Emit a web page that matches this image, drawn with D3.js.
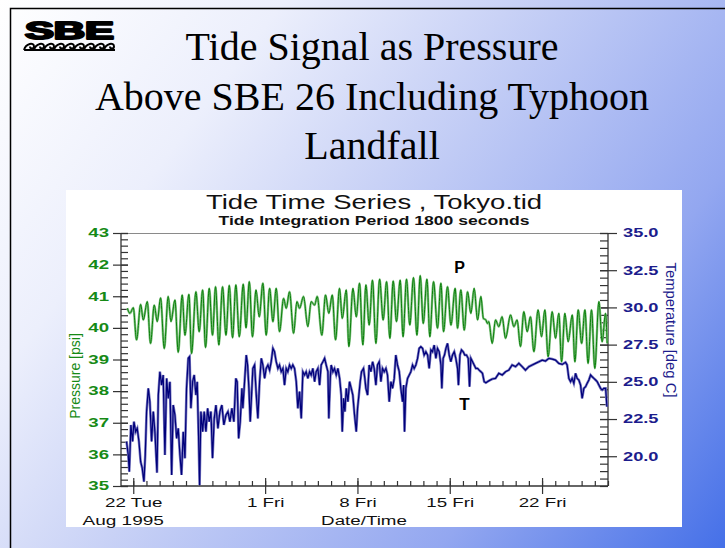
<!DOCTYPE html>
<html><head><meta charset="utf-8">
<script src="https://cdn.jsdelivr.net/npm/d3@7"></script>
<style>html,body{margin:0;padding:0;background:#fff;overflow:hidden}</style>
</head><body>
<svg id="c" width="725" height="548"></svg>
<script>
// ---------------- data ----------------
const slideTitle = ["Tide Signal as Pressure", "Above SBE 26 Including Typhoon", "Landfall"];
const chartTitle = "Tide Time Series , Tokyo.tid";
const chartSubtitle = "Tide Integration Period 1800 seconds";
const pressureLabel = "Pressure [psi]";
const temperatureLabel = "Temperature [deg C]";
const xLabel = "Date/Time";
const xSubLabel = "Aug 1995";
const pressureTicks = [35, 36, 37, 38, 39, 40, 41, 42, 43];
const temperatureTicks = [20.0, 22.5, 25.0, 27.5, 30.0, 32.5, 35.0];
const dateTicks = ["1995-08-22", "1995-09-01", "1995-09-08", "1995-09-15", "1995-09-22"];
const seriesNames = ["P", "T"];

// days since 1995-08-22 00:00 and values (tidal highs / lows of pressure)
const pressureDay = [-0.45,-0.25,0.00,0.25,0.56,0.76,1.06,1.31,1.59,1.82,2.07,2.35,2.65,2.86,3.16,3.41,3.71,3.92,4.22,4.42,
  4.75,5.00,5.26,5.48,5.76,6.01,6.24,6.49,6.77,7.03,7.28,7.53,7.78,8.04,8.34,8.55,8.80,9.04,9.31,9.55,
  9.83,10.08,10.34,10.59,10.84,11.09,11.40,11.60,11.85,12.16,12.41,12.61,12.91,13.24,13.49,13.75,13.95,14.30,14.58,14.83,
  15.09,15.34,15.64,15.85,16.15,16.35,16.66,16.91,17.16,17.41,17.64,17.89,18.14,18.40,18.68,18.95,19.21,19.46,19.71,19.96,
  20.24,20.46,20.72,20.97,21.25,21.51,21.76,21.99,22.27,22.49,22.77,23.07,23.33,23.53,23.83,24.09,24.41,24.59,24.84,25.10,
  25.35,25.60,25.85,26.11,26.36,26.55,26.74,26.86,26.96,27.22,27.47,27.72,27.97,28.23,28.61,28.86,29.11,29.36,29.62,29.87,
  30.12,30.38,30.70,30.96,31.21,31.46,31.77,32.02,32.27,32.48,32.73,32.98,33.29,33.49,33.74,34.00,34.25,34.49,34.75,35.00,
  35.31,35.56,35.81,35.94];
const pressureVal = [40.62,40.46,40.64,39.62,40.74,40.25,40.83,39.51,40.72,40.20,40.95,39.35,40.99,40.20,40.88,39.23,41.04,39.77,41.06,39.19,
  41.14,39.88,41.20,39.38,41.25,39.77,41.30,39.46,41.30,39.77,41.34,39.69,41.36,39.72,41.38,40.00,41.46,39.72,41.20,40.35,
  41.41,39.77,41.25,40.20,41.25,39.88,40.93,40.62,41.14,39.83,40.83,40.62,40.99,40.04,40.83,40.72,40.99,39.77,41.04,40.46,
  41.04,39.62,41.25,40.30,41.20,39.41,41.25,40.35,41.41,39.46,41.36,40.09,41.51,39.51,41.54,40.25,41.46,39.67,41.48,40.20,
  41.51,39.72,41.54,40.09,41.59,39.77,41.65,40.14,41.54,39.72,41.46,39.99,41.41,39.88,41.30,40.09,41.25,39.99,41.20,39.93,
  41.14,40.46,41.25,40.25,40.99,40.30,40.25,40.14,40.20,39.51,40.25,40.04,40.35,39.67,40.41,40.04,40.25,39.41,40.51,39.88,
  40.35,39.25,40.57,39.72,40.57,39.09,40.51,39.67,40.46,38.93,40.46,39.56,40.41,38.93,40.57,39.51,40.57,38.88,40.57,38.72,
  40.83,39.56,40.46,39.51];

const temperatureDay = [-0.51,-0.38,-0.30,-0.18,-0.05,0.05,0.18,0.30,0.43,0.56,0.68,0.81,0.91,1.01,1.14,1.26,1.39,1.52,1.64,1.80,
  1.90,2.02,2.15,2.27,2.40,2.53,2.65,2.78,2.91,3.03,3.16,3.29,3.41,3.54,3.66,3.79,3.92,4.04,4.17,4.27,
  4.37,4.50,4.62,4.75,4.85,4.95,5.03,5.13,5.26,5.38,5.51,5.64,5.76,5.89,6.01,6.14,6.27,6.42,6.57,6.72,
  6.87,7.03,7.18,7.33,7.48,7.63,7.78,7.88,7.99,8.11,8.24,8.31,8.44,8.57,8.67,8.77,8.87,8.97,9.07,9.20,
  9.33,9.45,9.58,9.71,9.83,9.96,10.08,10.21,10.34,10.46,10.59,10.71,10.84,10.97,11.09,11.22,11.35,11.47,11.60,11.72,
  11.85,11.98,12.10,12.23,12.36,12.48,12.61,12.74,12.86,12.99,13.11,13.24,13.37,13.49,13.62,13.75,13.87,14.00,14.13,14.25,
  14.38,14.51,14.63,14.76,14.83,14.94,15.01,15.14,15.26,15.39,15.52,15.65,15.77,15.85,15.95,16.05,16.15,16.28,16.40,16.53,
  16.65,16.78,16.91,17.01,17.11,17.21,17.31,17.46,17.56,17.64,17.77,17.89,18.02,18.15,18.27,18.40,18.52,18.65,18.78,18.90,
  19.03,19.16,19.28,19.41,19.54,19.66,19.79,19.91,20.04,20.17,20.29,20.42,20.50,20.57,20.67,20.80,20.93,21.05,21.18,21.30,
  21.43,21.56,21.68,21.81,21.94,22.06,22.19,22.32,22.44,22.57,22.69,22.82,22.95,23.07,23.20,23.33,23.40,23.50,23.60,23.71,
  23.83,23.96,24.08,24.21,24.34,24.46,24.59,24.66,24.77,24.89,25.02,25.14,25.27,25.40,25.50,25.60,25.73,25.85,25.98,26.11,
  26.23,26.36,26.48,26.61,26.74,26.86,26.99,27.22,27.47,27.72,27.98,28.23,28.48,28.73,28.99,29.24,29.49,29.74,30.00,30.25,
  30.50,30.76,31.01,31.26,31.52,31.77,32.02,32.27,32.53,32.78,32.90,33.03,33.16,33.28,33.41,33.54,33.66,33.79,33.92,34.04,
  34.17,34.30,34.42,34.55,34.68,34.80,34.93,35.06,35.18,35.31,35.44,35.56,35.69,35.82,35.92];
const temperatureVal = [20.98,20.08,18.96,22.10,21.00,22.32,21.65,21.87,21.00,19.63,19.20,18.29,20.08,23.00,24.56,23.66,21.00,23.00,21.65,18.90,
  24.10,25.68,24.78,25.46,20.08,25.23,23.89,25.00,18.74,23.44,22.77,21.20,21.87,20.08,18.74,21.65,19.86,24.56,26.58,26.69,
  23.22,25.00,25.46,24.11,25.00,21.42,18.06,23.00,21.65,23.00,21.65,23.22,22.32,23.00,19.86,22.54,23.44,21.87,23.00,23.44,
  22.10,22.77,23.00,22.32,23.22,22.32,25.23,25.00,21.20,22.32,24.56,23.22,25.01,26.80,26.13,24.56,22.32,24.11,25.90,26.13,
  24.11,22.54,25.01,26.58,26.13,25.23,25.90,26.13,25.79,26.35,27.25,27.02,26.35,25.90,26.13,25.68,25.90,24.78,25.90,25.68,
  26.13,25.90,26.13,25.90,25.01,23.22,24.34,22.54,25.68,25.46,25.68,25.23,25.68,25.46,25.90,25.01,25.68,25.90,24.78,26.13,
  26.35,26.58,26.13,25.68,22.54,25.23,26.13,25.68,25.90,25.46,25.90,25.23,24.11,21.65,23.89,23.00,24.56,23.66,25.01,24.56,
  24.11,22.77,21.65,23.22,24.11,25.01,25.68,25.90,25.23,24.56,24.11,26.13,25.68,26.35,25.90,24.78,26.13,26.35,25.01,25.90,
  25.68,25.90,25.46,23.66,25.01,24.56,25.23,26.80,26.13,25.68,24.56,23.66,24.78,21.65,24.56,25.23,25.46,25.68,26.13,25.90,
  26.13,26.58,27.25,27.36,27.25,26.80,27.02,26.80,25.90,27.14,27.02,27.47,26.58,27.25,27.02,26.13,24.56,26.58,26.80,27.25,
  27.58,26.80,26.35,26.80,27.02,26.58,25.90,24.78,26.80,27.14,27.02,26.80,26.80,26.58,24.67,26.58,26.35,26.13,25.90,25.90,
  25.79,25.68,25.57,25.01,24.94,25.01,25.08,25.19,25.23,25.57,25.46,25.68,25.79,26.13,26.02,26.24,26.02,25.79,26.02,26.13,
  26.24,26.35,26.46,26.40,26.58,26.53,26.46,26.24,26.17,26.31,26.13,25.23,25.01,25.23,24.90,25.57,25.23,25.12,24.78,23.89,
  24.56,24.67,24.90,25.12,25.46,25.34,25.23,25.12,25.01,24.78,24.56,24.45,24.56,24.56,23.33];

// ---------------- drawing ----------------
const svg = d3.select("#c");
const day0 = Date.UTC(1995, 7, 22);
const toDate = d => new Date(day0 + d * 86400000);
const sans = "'Liberation Sans', Arial, sans-serif";
const serif = "'Liberation Serif', 'Times New Roman', serif";

function stretch(sel, k) {
  sel.each(function () {
    const w = this.getComputedTextLength();
    this.setAttribute("textLength", (w * k).toFixed(1));
    this.setAttribute("lengthAdjust", "spacingAndGlyphs");
  });
}

// background
const defs = svg.append("defs");
const g = defs.append("linearGradient").attr("id", "bg")
  .attr("gradientUnits", "userSpaceOnUse").attr("x1", 0).attr("y1", 0).attr("x2", 725).attr("y2", 548);
[[0, "#ffffff"], [0.25, "#eceffc"], [0.45, "#c9d2f6"], [0.75, "#93a7f0"], [1, "#4570e8"]]
  .forEach(([o, c]) => g.append("stop").attr("offset", o).attr("stop-color", c));
svg.append("rect").attr("width", 725).attr("height", 548).attr("fill", "url(#bg)");
svg.append("rect").attr("x", 10.5).attr("y", 8.5).attr("width", 730).attr("height", 560)
  .attr("fill", "none").attr("stroke", "#000").attr("stroke-width", 1.5);

// logo
svg.append("text").attr("x", 25).attr("y", 38.5).text("SBE")
  .attr("font-family", sans).attr("font-weight", "bold").attr("font-size", 23)
  .attr("stroke", "#000").attr("stroke-width", 2).attr("stroke-linejoin", "round")
  .attr("textLength", 89).attr("lengthAdjust", "spacingAndGlyphs");
const wave = d3.path();
for (let i = 0; i < 9; i++) {
  const x0 = 24 + i * 10;
  wave.moveTo(x0, 50);
  wave.bezierCurveTo(x0 + 2, 43, x0 + 10, 42, x0 + 10, 46.5);
  wave.bezierCurveTo(x0 + 10, 49, x0 + 6, 49, x0 + 6, 46.5);
}
wave.moveTo(24, 50); wave.lineTo(115, 50);
svg.append("path").attr("d", wave.toString()).attr("fill", "none").attr("stroke", "#000").attr("stroke-width", 2);

// slide title
svg.append("g").selectAll("text").data(slideTitle).join("text")
  .attr("x", 372).attr("y", (d, i) => 60 + i * 49.5)
  .attr("text-anchor", "middle").attr("font-family", serif).attr("font-size", 40).attr("fill", "#000")
  .text(d => d);

// chart image box
svg.append("rect").attr("x", 66).attr("y", 190).attr("width", 616).attr("height", 337).attr("fill", "#fff");

const L = 121, R = 608, T = 233, B = 486;
const x = d3.scaleTime().domain([toDate(-0.93), toDate(36)]).range([L, R]);
const yP = d3.scaleLinear().domain([35, 43]).range([B, T]);
const yT = d3.scaleLinear().domain([18, 35]).range([B, T]);

// chart titles
svg.append("text").attr("x", 374).attr("y", 209).attr("text-anchor", "middle")
  .attr("font-family", sans).attr("font-size", 19.5).attr("fill", "#111").text(chartTitle).call(stretch, 1.41);
svg.append("text").attr("x", 374).attr("y", 225).attr("text-anchor", "middle")
  .attr("font-family", sans).attr("font-size", 13).attr("font-weight", "bold").attr("fill", "#111")
  .text(chartSubtitle).call(stretch, 1.35);

// top frame line
svg.append("line").attr("x1", L).attr("x2", R).attr("y1", T + 0.5).attr("y2", T + 0.5)
  .attr("stroke", "#8a8a8a").attr("stroke-width", 1.2);

const green = "#168a16", navy = "#1c1c8c", axisCol = "#333";

// left axis
const minorP = d3.range(35, 43.001, 0.2);
const gl = svg.append("g").attr("transform", `translate(${L},0)`);
gl.call(d3.axisLeft(yP).tickValues(minorP).tickSize(-7).tickFormat(""));
const glM = svg.append("g").attr("transform", `translate(${L},0)`)
  .call(d3.axisLeft(yP).tickValues(pressureTicks).tickSize(8).tickPadding(4).tickFormat(d3.format("d")));
glM.selectAll(".tick line").attr("x1", 7);
glM.selectAll("text").attr("font-family", sans).attr("font-size", 12).attr("font-weight", "bold").attr("fill", green)
  .call(stretch, 1.55);

// right axis
const minorT = d3.range(18, 35.001, 0.5);
const gr = svg.append("g").attr("transform", `translate(${R},0)`);
gr.call(d3.axisRight(yT).tickValues(minorT).tickSize(-8).tickFormat(""));
const grM = svg.append("g").attr("transform", `translate(${R},0)`)
  .call(d3.axisRight(yT).tickValues(temperatureTicks).tickSize(9).tickPadding(6).tickFormat(d3.format(".1f")));
grM.selectAll(".tick line").attr("x1", -8);
grM.selectAll("text").attr("font-family", sans).attr("font-size", 12).attr("font-weight", "bold").attr("fill", navy)
  .call(stretch, 1.52);

// bottom axis
const minorD = d3.range(0, 37).map(toDate);
const gb = svg.append("g").attr("transform", `translate(0,${B})`);
gb.call(d3.axisBottom(x).tickValues(minorD).tickSize(-5).tickFormat(""));
const majorD = dateTicks.map(s => new Date(s + "T00:00:00Z"));
const fmt = d3.utcFormat("%-d %a");
const gbM = svg.append("g").attr("transform", `translate(0,${B})`)
  .call(d3.axisBottom(x).tickValues(majorD).tickSize(8).tickPadding(4).tickFormat(fmt));
gbM.selectAll(".tick line").attr("y1", -8);
gbM.selectAll("text").attr("font-family", sans).attr("font-size", 12.5).attr("fill", "#111")
  .call(stretch, 1.5);

[gl, glM, gr, grM, gb, gbM].forEach(a => {
  a.selectAll("path.domain").attr("stroke", axisCol).attr("stroke-width", 1.3);
  a.selectAll(".tick line").attr("stroke", axisCol).attr("stroke-width", 1.2);
});
gl.select("path.domain").attr("d", `M0,${T}V${B}`);
gr.select("path.domain").attr("d", `M0,${T}V${B}`);
gb.select("path.domain").attr("d", `M${L},0H${R}`);
glM.select("path.domain").remove(); grM.select("path.domain").remove(); gbM.select("path.domain").remove();

// axis titles
svg.append("text").attr("x", 82.5).attr("y", 524.5).attr("font-family", sans).attr("font-size", 12.5).attr("fill", "#111")
  .text(xSubLabel).call(stretch, 1.52);
svg.append("text").attr("x", 364).attr("y", 524.5).attr("text-anchor", "middle").attr("font-family", sans)
  .attr("font-size", 12.5).attr("fill", "#111").text(xLabel).call(stretch, 1.5);
svg.append("text").attr("transform", "translate(80,376) rotate(-90)").attr("text-anchor", "middle")
  .attr("font-family", sans).attr("font-size", 14).attr("fill", green).text(pressureLabel);
svg.append("text").attr("transform", "translate(666,330) rotate(90)").attr("text-anchor", "middle")
  .attr("font-family", sans).attr("font-size", 14).attr("fill", navy).text(temperatureLabel)
  .attr("textLength", 135).attr("lengthAdjust", "spacingAndGlyphs");

// series
const pData = pressureDay.map((d, i) => ({ t: toDate(d), v: pressureVal[i] }));
const tData = temperatureDay.map((d, i) => ({ t: toDate(d), v: temperatureVal[i] }));
const lineP = d3.line().x(d => x(d.t)).y(d => yP(d.v)).curve(d3.curveMonotoneX);
const lineT = d3.line().x(d => x(d.t)).y(d => yT(d.v));
const plot = svg.append("g");
plot.append("path").datum(pData).attr("d", lineP).attr("fill", "none").attr("stroke", "#86c486").attr("stroke-width", 2.4);
plot.append("path").datum(pData).attr("d", lineP).attr("fill", "none").attr("stroke", "#0a800a").attr("stroke-width", 1);
plot.append("path").datum(tData).attr("d", lineT).attr("fill", "none").attr("stroke", "#7c7cc2").attr("stroke-width", 2.6);
plot.append("path").datum(tData).attr("d", lineT).attr("fill", "none").attr("stroke", "#00007a").attr("stroke-width", 1.2);

// series labels
svg.append("text").attr("x", 459.5).attr("y", 273).attr("text-anchor", "middle").attr("font-family", sans)
  .attr("font-size", 16).attr("font-weight", "bold").attr("fill", "#000").text(seriesNames[0]);
svg.append("text").attr("x", 464.5).attr("y", 410).attr("text-anchor", "middle").attr("font-family", sans)
  .attr("font-size", 17).attr("font-weight", "bold").attr("fill", "#000").text(seriesNames[1]);
</script>
</body></html>
